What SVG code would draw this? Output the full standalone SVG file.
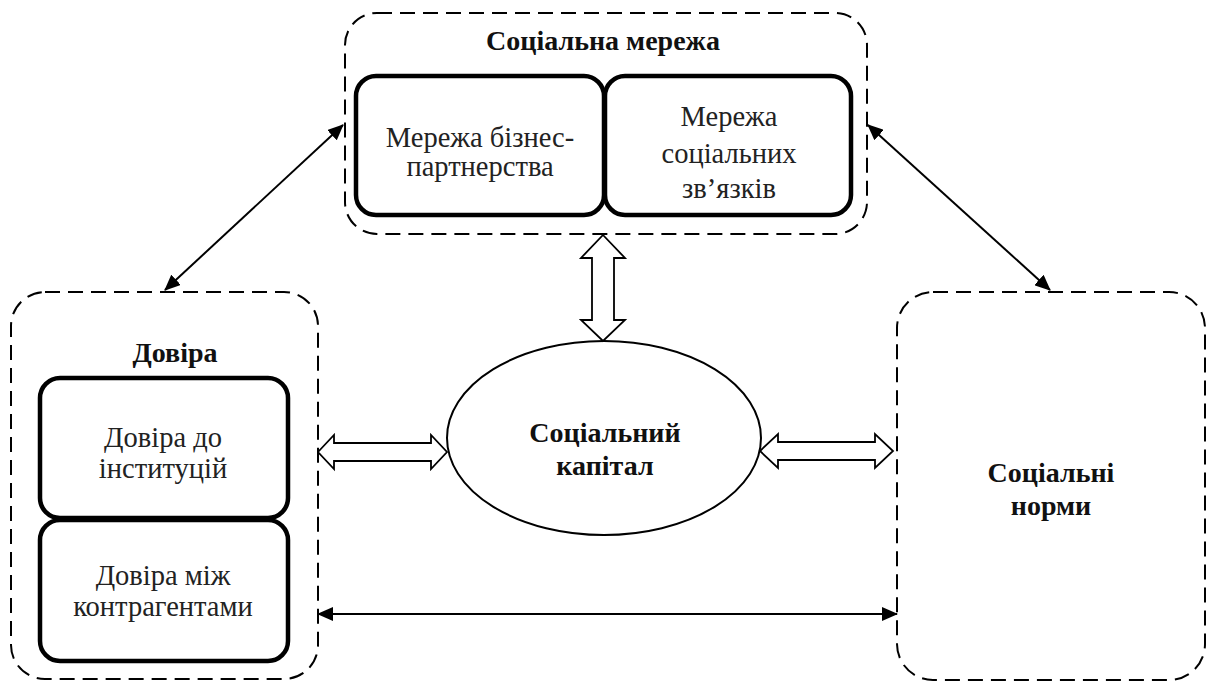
<svg xmlns="http://www.w3.org/2000/svg" width="1208" height="682" viewBox="0 0 1208 682">
<style>
.dash{fill:none;stroke:#000;stroke-width:2;stroke-dasharray:15 8}
.inner{fill:#fff;stroke:#000;stroke-width:4.5}
.t{font-family:"Liberation Serif","Times New Roman",serif;font-size:28.5px;fill:#222;text-anchor:middle}
.b{font-family:"Liberation Serif","Times New Roman",serif;font-size:28px;font-weight:bold;fill:#111;text-anchor:middle}
.line{fill:none;stroke:#000;stroke-width:2}
.block{fill:#fff;stroke:#000;stroke-width:1.8;stroke-linejoin:miter}
</style>
<defs>
<marker id="ah" markerWidth="16" markerHeight="14" refX="15" refY="7" orient="auto-start-reverse" markerUnits="userSpaceOnUse">
<path d="M0,0 L16,7 L0,14 Z" fill="#000"/>
</marker>
</defs>
<rect width="1208" height="682" fill="#fff"/>
<g id="social-network">
<rect class="dash" x="345" y="13" width="522" height="221" rx="32" ry="32"/>
<text class="b" x="603" y="50">Соціальна мережа</text>
<g id="business-network">
<rect class="inner" x="356" y="76" width="248" height="139" rx="20" ry="20"/>
<text class="t" x="480" y="147">Мережа бізнес-</text>
<text class="t" x="480" y="176">партнерства</text>
</g>
<g id="social-ties">
<rect class="inner" x="605" y="76" width="246" height="139" rx="20" ry="20"/>
<text class="t" x="729" y="126">Мережа</text>
<text class="t" x="729" y="163">соціальних</text>
<text class="t" x="729" y="198">зв’язків</text>
</g>
</g>
<g id="trust">
<rect class="dash" x="11" y="292" width="307" height="387" rx="34" ry="34"/>
<text class="b" x="175" y="362">Довіра</text>
<g id="trust-institutions">
<rect class="inner" x="40" y="378" width="248" height="140" rx="20" ry="20"/>
<text class="t" x="163" y="447">Довіра до</text>
<text class="t" x="163" y="478">інституцій</text>
</g>
<g id="trust-counterparties">
<rect class="inner" x="40" y="520" width="248" height="141" rx="20" ry="20"/>
<text class="t" x="163" y="585">Довіра між</text>
<text class="t" x="163" y="616">контрагентами</text>
</g>
</g>
<g id="social-capital">
<ellipse cx="604" cy="438" rx="157" ry="97" fill="#fff" stroke="#000" stroke-width="2"/>
<text class="b" x="605" y="442">Соціальний</text>
<text class="b" x="605" y="475">капітал</text>
</g>
<g id="social-norms">
<rect class="dash" x="897" y="292" width="308" height="388" rx="36" ry="36"/>
<text class="b" x="1051" y="482">Соціальні</text>
<text class="b" x="1051" y="515">норми</text>
</g>
<g id="connectors">
<line class="line" x1="165" y1="290" x2="343" y2="125" marker-start="url(#ah)" marker-end="url(#ah)"/>
<line class="line" x1="868" y1="125" x2="1050" y2="290" marker-start="url(#ah)" marker-end="url(#ah)"/>
<line class="line" x1="318" y1="614" x2="897" y2="614" marker-start="url(#ah)" marker-end="url(#ah)"/>
<path class="block" d="M603,235 L625,258 L614,258 L614,320 L625,320 L603,341 L581,320 L592,320 L592,258 L581,258 Z"/>
<path class="block" d="M318,452 L334,435 L334,443 L431,443 L431,435 L447,452 L431,469 L431,461 L334,461 L334,469 Z"/>
<path class="block" d="M760,451 L778,434 L778,442 L875,442 L875,434 L893,451 L875,468 L875,460 L778,460 L778,468 Z"/>
</g>
</svg>
